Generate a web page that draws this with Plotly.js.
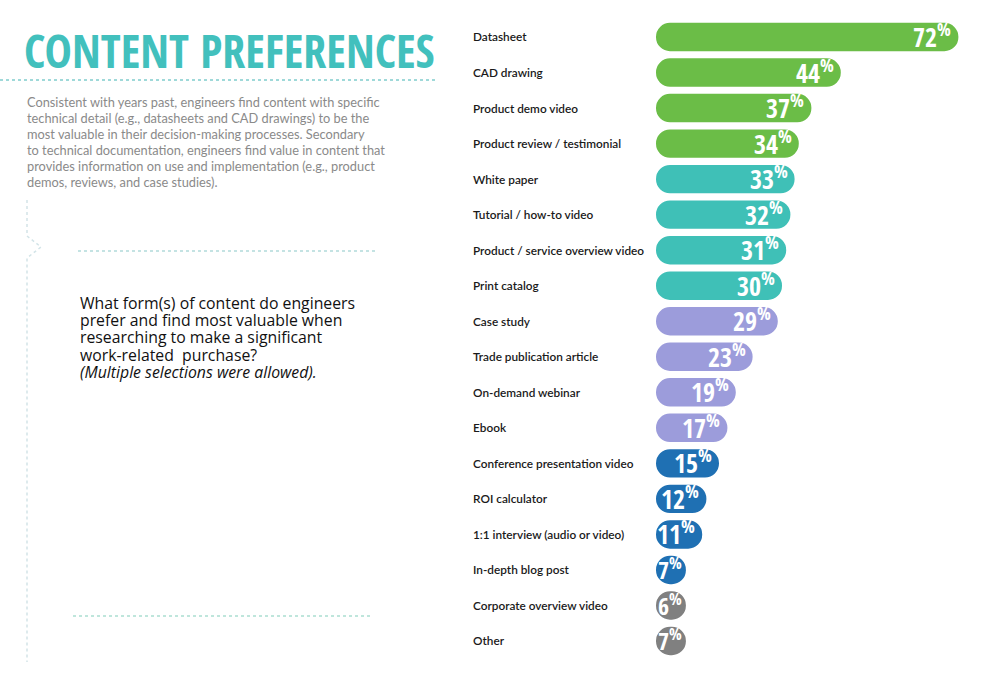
<!DOCTYPE html>
<html>
<head>
<meta charset="utf-8">
<script src="https://cdn.plot.ly/plotly-3.0.1.min.js"></script>
<style>
  html, body { margin: 0; padding: 0; background: #fff; }
  #chart { width: 1000px; height: 684px; }
</style>
</head>
<body>
<div id="chart"></div>
<script>
// survey answers, top to bottom
const categories = [
  "Datasheet", "CAD drawing", "Product demo video", "Product review / testimonial",
  "White paper", "Tutorial / how-to video", "Product / service overview video", "Print catalog",
  "Case study", "Trade publication article", "On-demand webinar", "Ebook",
  "Conference presentation video", "ROI calculator", "1:1 interview (audio or video)", "In-depth blog post",
  "Corporate overview video", "Other"
];
const values = [72, 44, 37, 34, 33, 32, 31, 30, 29, 23, 19, 17, 15, 12, 11, 7, 6, 7];
const barColors = [
  "#6bbd47", "#6bbd47", "#6bbd47", "#6bbd47",
  "#3fc0b7", "#3fc0b7", "#3fc0b7", "#3fc0b7",
  "#9c9cdb", "#9c9cdb", "#9c9cdb", "#9c9cdb",
  "#1f70b3", "#1f70b3", "#1f70b3", "#1f70b3",
  "#808080", "#808080"
];

const introLines = [
  "Consistent with years past, engineers find content with specific",
  "technical detail (e.g., datasheets and CAD drawings) to be the",
  "most valuable in their decision-making processes. Secondary",
  "to technical documentation, engineers find value in content that",
  "provides information on use and implementation (e.g., product",
  "demos, reviews, and case studies)."
];
const questionLines = [
  "What form(s) of content do engineers",
  "prefer and find most valuable when",
  "researching to make a significant",
  "work-related  purchase?",
  "<i>(Multiple selections were allowed).</i>"
];

const W = 1000, H = 684;
const px = x => x / W;
const py = y => 1 - y / H;

const unitPx = 4.2;            // pixels per percentage point
const thick = 28.4;            // bar thickness in px
const minLen = (thick + 1.5) / unitPx;   // smallest pills are drawn as circles

const teal = "#42c0bd";
const condensed = "'Open Sans Condensed', 'Roboto Condensed', sans-serif";

// pills: with an explicit base both ends get rounded
const traces = [{
  type: "bar",
  orientation: "h",
  y: categories,
  x: values.map(v => Math.max(v, minLen)),
  base: values.map(() => 0),
  width: 0.8,
  marker: { color: barColors, cornerradius: thick / 2, line: { width: 0 } },
  hoverinfo: "skip",
  showlegend: false
}];

const annotations = [];

// category labels
categories.forEach(c => {
  annotations.push({
    xref: "paper", yref: "y", x: px(471), y: c,
    xanchor: "left", yanchor: "middle",
    text: c, showarrow: false,
    font: { family: "Lato, 'Open Sans', sans-serif", size: 11.8, color: "#1a1a1a", weight: 600 }
  });
});

// value labels inside the pill end
values.forEach((v, i) => {
  const end = Math.max(v, minLen);
  annotations.push({
    xref: "x", yref: "y", x: end, y: categories[i],
    xanchor: "right", yanchor: "middle", xshift: v < 10 ? -2 : -5, yshift: 1,
    text: v + "<sup>%</sup>", showarrow: false,
    font: { family: condensed, size: v < 10 ? 24 : 26, color: "#ffffff", weight: 700 }
  });
});

// title
annotations.push({
  xref: "paper", yref: "paper", x: px(22), y: py(50),
  xanchor: "left", yanchor: "middle",
  text: "CONTENT PREFERENCES", showarrow: false,
  font: { family: condensed, size: 46, color: teal, weight: 700 }
});

introLines.forEach((t, i) => {
  annotations.push({
    xref: "paper", yref: "paper", x: px(25), y: py(102 + i * 15.9),
    xanchor: "left", yanchor: "middle",
    text: t, showarrow: false,
    font: { family: "Lato, 'Open Sans', sans-serif", size: 12.8, color: "#8a8a8a" }
  });
});

questionLines.forEach((t, i) => {
  annotations.push({
    xref: "paper", yref: "paper", x: px(78), y: py(303 + i * 17.2),
    xanchor: "left", yanchor: "middle",
    text: t, showarrow: false,
    font: { family: "'Open Sans', sans-serif", size: 15.8, color: "#111111" }
  });
});

const shapes = [
  // under the title
  { type: "line", xref: "paper", yref: "paper", x0: 0, x1: px(437), y0: py(80), y1: py(80),
    line: { color: "#9fd9d9", width: 2, dash: "dot" } },
  // left rail with chevron
  { type: "path", xref: "paper", yref: "paper",
    path: `M ${px(27)} ${py(200)} L ${px(27)} ${py(236)} L ${px(41)} ${py(247)} L ${px(27)} ${py(258)} L ${px(27)} ${py(662)}`,
    line: { color: "#d3e4e8", width: 1.5, dash: "dot" } },
  // above the question
  { type: "line", xref: "paper", yref: "paper", x0: px(78), x1: px(375), y0: py(251), y1: py(251),
    line: { color: "#c4e3e3", width: 2, dash: "dot" } },
  // bottom rule
  { type: "line", xref: "paper", yref: "paper", x0: px(73), x1: px(370), y0: py(616), y1: py(616),
    line: { color: "#bfe6dc", width: 2, dash: "dot" } }
];

const rowPx = (641 - 37) / 17;

const layout = {
  width: W,
  height: H,
  margin: { l: 0, r: 0, t: 0, b: 0, pad: 0 },
  paper_bgcolor: "#ffffff",
  plot_bgcolor: "rgba(0,0,0,0)",
  showlegend: false,
  xaxis: {
    domain: [px(656), 1],
    range: [0, (W - 656) / unitPx],
    visible: false,
    fixedrange: true
  },
  yaxis: {
    domain: [py(641 + rowPx / 2), py(37 - rowPx / 2)],
    type: "category",
    categoryorder: "array",
    categoryarray: categories,
    range: [categories.length - 0.5, -0.5],
    visible: false,
    fixedrange: true
  },
  annotations: annotations,
  shapes: shapes
};

Plotly.newPlot("chart", traces, layout, { staticPlot: true });
</script>
</body>
</html>
